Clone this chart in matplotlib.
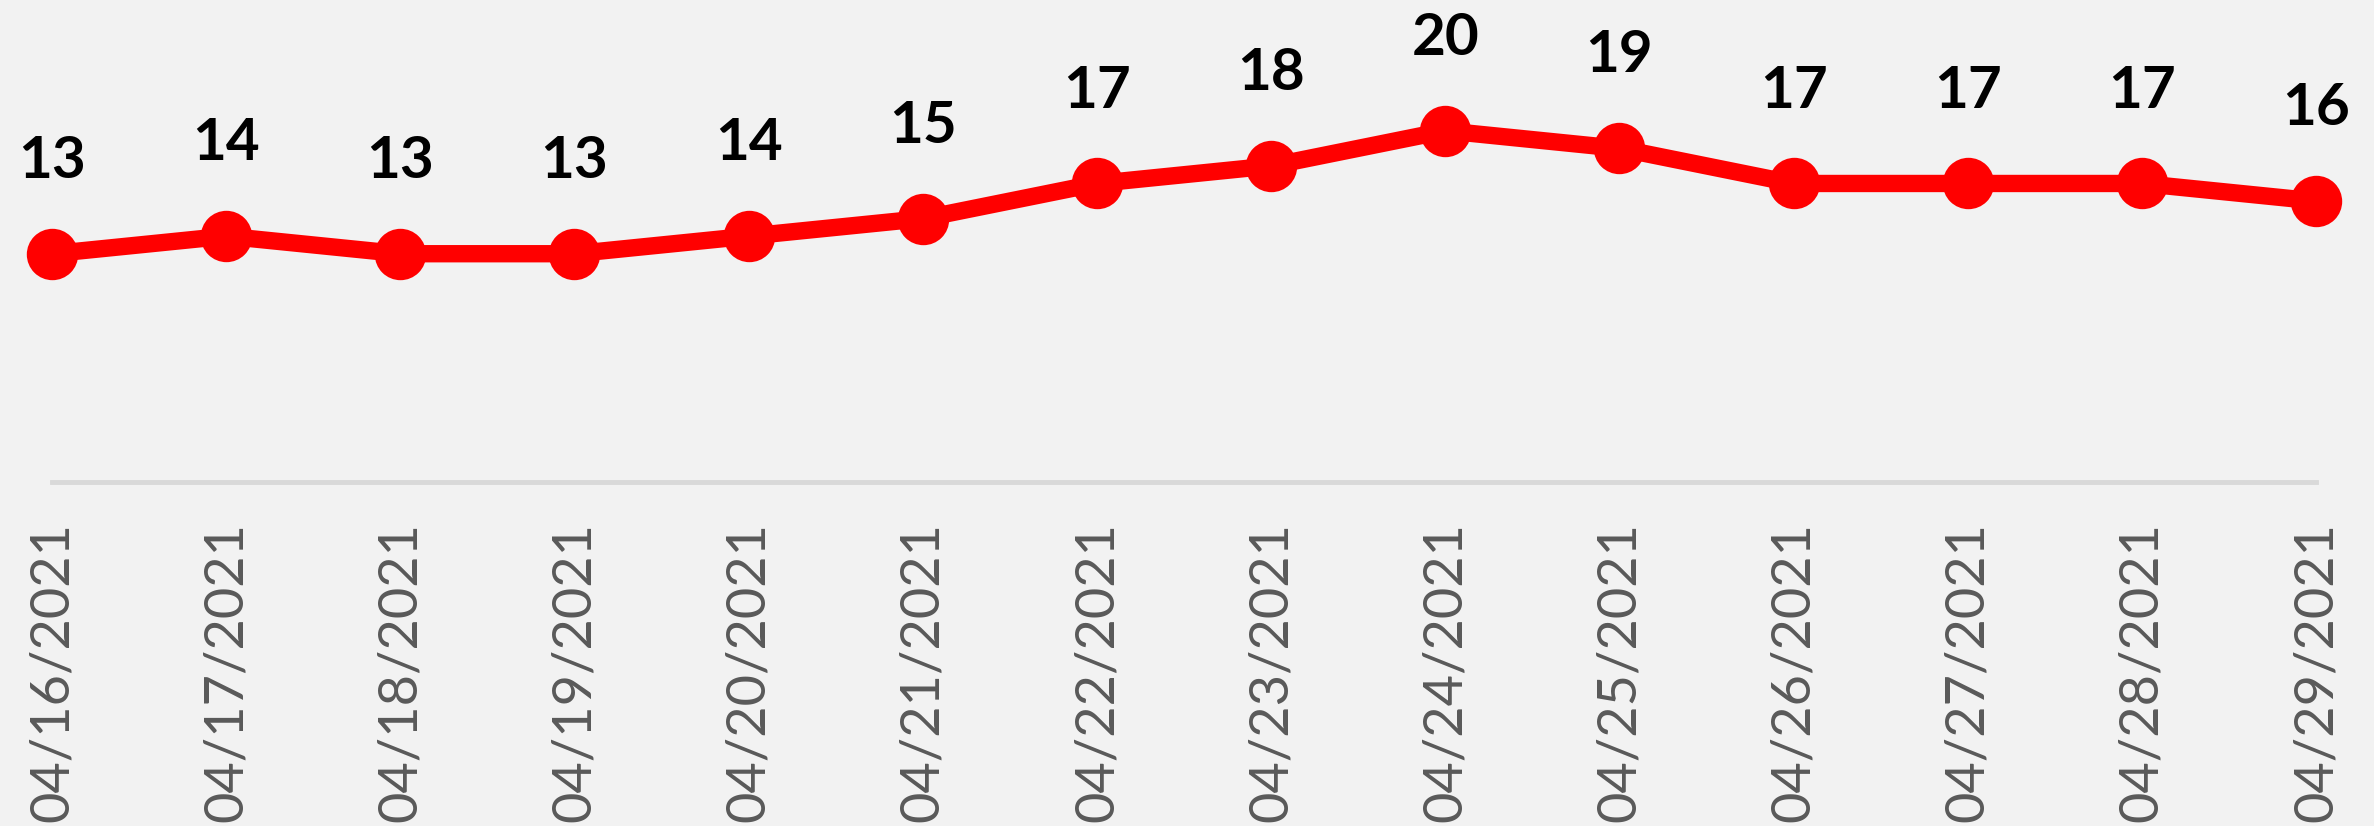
import matplotlib
matplotlib.use("Agg")
import matplotlib.pyplot as plt

dates = ["04/16/2021", "04/17/2021", "04/18/2021", "04/19/2021", "04/20/2021",
         "04/21/2021", "04/22/2021", "04/23/2021", "04/24/2021", "04/25/2021",
         "04/26/2021", "04/27/2021", "04/28/2021", "04/29/2021"]
values = [13, 14, 13, 13, 14, 15, 17, 18, 20, 19, 17, 17, 17, 16]

W, H = 2374, 826
DPI = 100
bg = "#f2f2f2"

fig = plt.figure(figsize=(W / DPI, H / DPI), dpi=DPI, facecolor=bg)
ax = fig.add_axes([52 / W, (H - 482) / H, (2316 - 52) / W, 439 / H])
ax.set_facecolor(bg)

# find tick font size giving ~300 px label length
renderer = fig.canvas.get_renderer()
probe = fig.text(0, 0, dates[0], fontsize=40, family="Lato")
wpx = probe.get_window_extent(renderer).width
probe.remove()
tick_fs = 40 * 300.0 / wpx

x = list(range(len(values)))
ax.plot(x, values, color="#ff0000", linewidth=12.5, marker="o", markersize=37,
        markerfacecolor="#ff0000", markeredgewidth=0, clip_on=False, zorder=3,
        solid_capstyle="butt")

for xi, v in zip(x, values):
    ax.annotate(f"{v}", (xi, v), xytext=(0, 54.7), textcoords="offset points",
                ha="center", va="baseline", fontsize=42, fontweight="bold",
                family="Lato", color="black", annotation_clip=False)

ax.set_xlim(0, len(values) - 1)
ax.set_ylim(0, 25)
ax.set_xticks(x)
ax.set_xticklabels(dates, rotation=90, fontsize=tick_fs, family="Lato", color="#595959")
ax.tick_params(axis="x", length=0, pad=29)
ax.set_yticks([])
for s in ["top", "left", "right"]:
    ax.spines[s].set_visible(False)
ax.spines["bottom"].set_color("#d9d9d9")
ax.spines["bottom"].set_linewidth(3.5)

fig.savefig("out.png", dpi=DPI, facecolor=bg)
